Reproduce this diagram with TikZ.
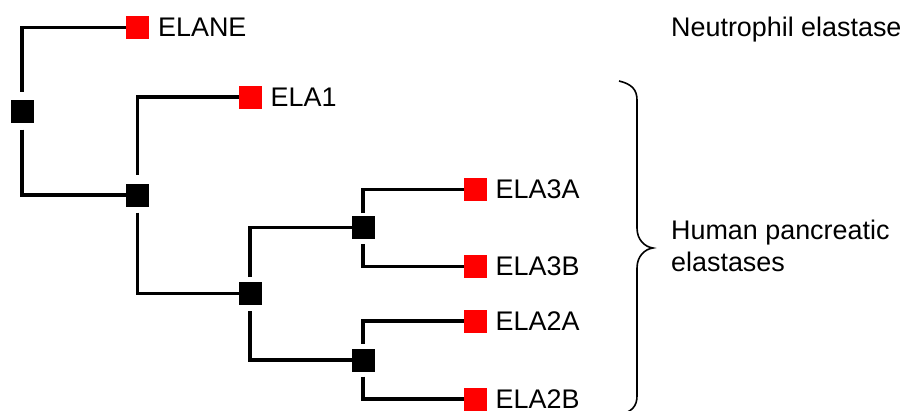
\documentclass[tikz,border=0pt]{standalone}
\usepackage{fontspec}
\setmainfont{Liberation Sans}
\begin{document}
\begin{tikzpicture}[x=1pt,y=-1pt,
  innode/.style={fill=black, minimum size=23pt, inner sep=0pt, outer sep=0pt},
  leaf/.style={fill=red, minimum size=23pt, inner sep=0pt, outer sep=0pt},
  branch/.style={line width=3.3pt},
  lbl/.style={inner sep=0pt, anchor=base west, font=\fontsize{26.9}{32}\selectfont},
  bracestyle/.style={line width=1.6pt}
]
\useasboundingbox (0,0) rectangle (901,410);
% internal nodes
\node[innode] (r)  at (22,111) {};
\node[innode] (n1) at (137.5,195) {};
\node[innode] (n2) at (250,293.5) {};
\node[innode] (n3) at (363,227.5) {};
\node[innode] (n4) at (363,360) {};
% leaves
\node[leaf] (elane) at (137.5,27.5) {};
\node[leaf] (ela1)  at (250,97) {};
\node[leaf] (ela3a) at (475,189.5) {};
\node[leaf] (ela3b) at (475,266.5) {};
\node[leaf] (ela2a) at (475,321) {};
\node[leaf] (ela2b) at (475,399) {};
% branches
\draw[branch] ([yshift=8pt]r.north) |- (elane.west);
\draw[branch] ([yshift=-7pt]r.south) |- (n1.west);
\draw[branch] ([yshift=9pt]n1.north) |- (ela1.west);
\draw[branch] ([yshift=-6pt]n1.south) |- (n2.west);
\draw[branch] ([yshift=5pt]n2.north) |- (n3.west);
\draw[branch] ([yshift=-6pt]n2.south) |- (n4.west);
\draw[branch] ([yshift=3pt]n3.north) |- (ela3a.west);
\draw[branch] ([yshift=-5pt]n3.south) |- (ela3b.west);
\draw[branch] ([yshift=5pt]n4.north) |- (ela2a.west);
\draw[branch] ([yshift=-5pt]n4.south) |- (ela2b.west);
% labels
\node[lbl] (telane) at ([xshift=9pt,yshift=-9pt]elane.east) {ELANE};
\node[lbl] (tela1)  at ([xshift=9pt,yshift=-9pt]ela1.east) {ELA1};
\node[lbl] (tela3a) at ([xshift=9pt,yshift=-9pt]ela3a.east) {ELA3A};
\node[lbl] (tela3b) at ([xshift=9pt,yshift=-9pt]ela3b.east) {ELA3B};
\node[lbl] (tela2a) at ([xshift=9pt,yshift=-9pt]ela2a.east) {ELA2A};
\node[lbl] (tela2b) at ([xshift=9pt,yshift=-9pt]ela2b.east) {ELA2B};
\node[lbl] (neut) at (671,36.5) {Neutrophil elastase};
\node[lbl] (hum1) at (671,239.5) {Human pancreatic};
\node[lbl] (hum2) at (671,271.5) {elastases};
% brace
\draw[bracestyle] (619,81) .. controls (632,84) and (637,90) .. (637,100)
  -- (637,228) .. controls (637,240) and (645,247) .. (653,248)
  .. controls (645,249) and (637,256) .. (637,268)
  -- (637,396) .. controls (637,406) and (632,412) .. (619,415);
\end{tikzpicture}
\end{document}
